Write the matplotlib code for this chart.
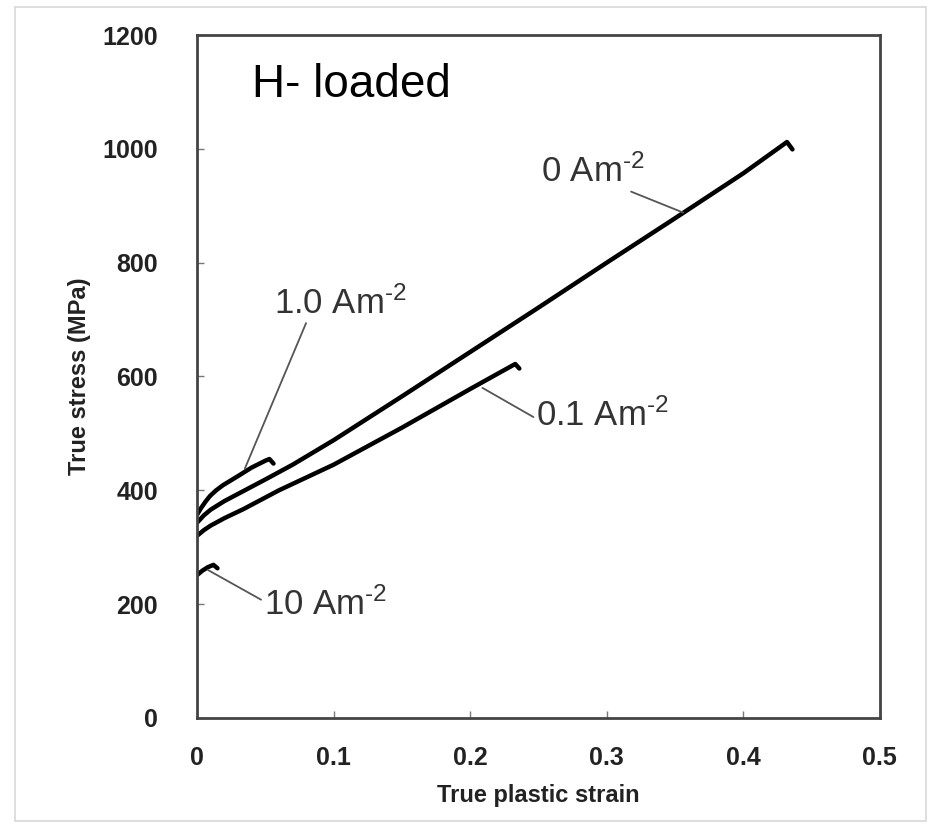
import matplotlib
matplotlib.use("Agg")
import matplotlib.pyplot as plt
from matplotlib.patches import Rectangle

plt.rcParams['font.family'] = ['Liberation Sans', 'DejaVu Sans']
plt.rcParams['mathtext.fontset'] = 'custom'
plt.rcParams['mathtext.rm'] = 'Liberation Sans'
plt.rcParams['mathtext.it'] = 'Liberation Sans:italic'
plt.rcParams['mathtext.bf'] = 'Liberation Sans:bold'

# curves (true plastic strain, true stress MPa)
strain_0 = [0, 0.005, 0.01, 0.02, 0.035, 0.05, 0.07, 0.1, 0.15, 0.2, 0.25, 0.3, 0.35, 0.4, 0.432, 0.436]
stress_0 = [343, 356, 366, 381, 400, 419, 445, 488, 565, 643, 721, 800, 878, 957, 1012, 999]

strain_01 = [0, 0.005, 0.01, 0.02, 0.034, 0.06, 0.1, 0.15, 0.2, 0.23, 0.233, 0.236]
stress_01 = [320, 330, 338, 351, 367, 400, 445, 510, 578, 618, 622, 614]

strain_1 = [0, 0.003, 0.0065, 0.0095, 0.014, 0.019, 0.03, 0.04, 0.05, 0.053, 0.056]
stress_1 = [357, 369, 381, 390, 400, 409, 425, 440, 452, 455, 447]

strain_10 = [0, 0.004, 0.008, 0.012, 0.015]
stress_10 = [251, 259, 265, 269, 263]

xticks = [0, 0.1, 0.2, 0.3, 0.4, 0.5]
xtick_labels = ['0', '0.1', '0.2', '0.3', '0.4', '0.5']
yticks = [0, 200, 400, 600, 800, 1000, 1200]

fig = plt.figure(figsize=(9.36, 8.26), dpi=100)
ax = fig.add_axes([0.2105, 0.1308, 0.7295, 0.8268])

# faint frame round the whole picture
fig.patches.append(Rectangle((0.016, 0.006), 0.973, 0.986, transform=fig.transFigure,
                             fill=False, edgecolor='#d8d8d8', linewidth=1.2))

for xs, ys in [(strain_0, stress_0), (strain_01, stress_01),
               (strain_1, stress_1), (strain_10, stress_10)]:
    ax.plot(xs, ys, color='black', linewidth=3.2, solid_capstyle='round',
            solid_joinstyle='round')

ax.set_xlim(0, 0.5)
ax.set_ylim(0, 1200)
ax.set_xticks(xticks)
ax.set_xticklabels(xtick_labels)
ax.set_yticks(yticks)
ax.tick_params(direction='in', length=5, width=1, color='#777', labelsize=18)
ax.tick_params(axis='x', pad=20)
ax.tick_params(axis='y', pad=28)
for lab in ax.get_xticklabels() + ax.get_yticklabels():
    lab.set_fontweight('bold')
    lab.set_color('#222')
for s in ax.spines.values():
    s.set_color('#444')
    s.set_linewidth(2)

ax.set_xlabel('True plastic strain', fontsize=17, fontweight='bold', color='#222', labelpad=10)
ax.set_ylabel('True stress (MPa)', fontsize=17, fontweight='bold', color='#222', labelpad=8)

ax.text(0.113, 1112, 'H- loaded', fontsize=33, ha='center', va='center', color='black')

lead = dict(arrowstyle='-', color='#555', linewidth=1.3, shrinkA=0, shrinkB=0)
sup = r' Am$^{\text{-2}}$'
ax.annotate('0' + sup, xy=(0.356, 888), xytext=(0.29, 960), fontsize=25, color='#333',
            ha='center', va='center', arrowprops=dict(lead, relpos=(0.8, 0)))
ax.annotate('1.0' + sup, xy=(0.035, 438), xytext=(0.105, 729), fontsize=25, color='#333',
            ha='center', va='center', arrowprops=dict(lead, relpos=(0.25, 0)))
ax.annotate('0.1' + sup, xy=(0.209, 580), xytext=(0.297, 532), fontsize=25, color='#333',
            ha='center', va='center', arrowprops=dict(lead, relpos=(0, 0.4)))
ax.annotate('10' + sup, xy=(0.008, 260), xytext=(0.094, 199), fontsize=25, color='#333',
            ha='center', va='center', arrowprops=dict(lead, relpos=(0, 0.6)))

fig.savefig('out.png', dpi=100)
